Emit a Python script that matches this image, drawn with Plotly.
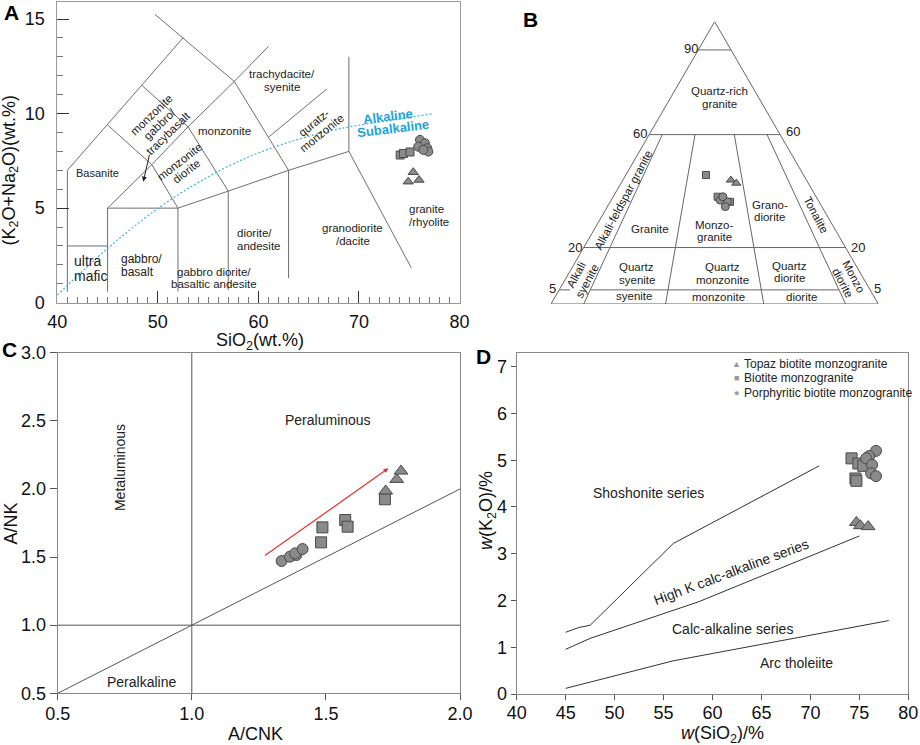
import math
import plotly.graph_objects as go

W, H = 920, 745
FONT = "Liberation Sans, Arial, sans-serif"

# ---------------- Panel A: TAS diagram ----------------
A_tri_sio2 = [75.4, 74.9, 75.97]
A_tri_alk = [6.9, 6.4, 6.49]
A_sq_sio2 = [74.1, 74.43, 75.08]
A_sq_alk = [7.81, 7.89, 7.97]
A_ci_sio2 = [76.07, 76.57, 76.8, 75.9, 76.9, 76.4]
A_ci_alk = [8.61, 8.43, 8.17, 8.25, 7.99, 8.08]

A_bounds = [
    [(41, 0.58), (41, 7)],
    [(41, 7), (45, 9.4), (48.4, 11.5), (52.5, 14)],
    [(49.7, 15.25), (52.5, 14), (57.6, 11.7), (63, 7)],
    [(41, 3), (45, 3)],
    [(45, 0.58), (45, 5), (52, 5)],
    [(45, 5), (49.4, 7.3), (53, 9.3), (57.6, 11.7), (61, 13.55)],
    [(45, 9.4), (49.4, 7.3), (52, 5)],
    [(48.4, 11.5), (53, 9.3)],
    [(53, 9.3), (57, 5.9)],
    [(52, 0.6), (52, 5), (57, 5.9), (63, 7), (69, 8)],
    [(57, 0.67), (57, 5.9)],
    [(63, 1.29), (63, 7)],
    [(69, 13.0), (69, 8), (75.2, 1.85)],
    [(61, 8.75), (66.8, 11.3)],
]
A_alk_sio2 = [40, 45, 50.5, 56.2, 60.8, 66.1, 69.1, 77.4]
A_alk_tot = [0.4, 2.87, 5.17, 7.0, 8.08, 8.96, 9.3, 10.0]

# ---------------- Panel B: QAP diagram (Q, A, P %) ----------------
B_tri_Q = [43.9, 42.8]
B_tri_A = [23.1, 22.0]
B_tri_P = [33.0, 35.2]
B_sq_Q = [45.7, 38.0, 36.2]
B_sq_A = [29.8, 30.1, 27.2]
B_sq_P = [24.5, 31.9, 36.6]
B_ci_Q = [36.8, 36.2, 34.5, 38.0]
B_ci_A = [29.9, 28.0, 29.5, 28.5]
B_ci_P = [33.3, 35.8, 36.0, 33.5]
B_q_full = [90, 60, 20]          # Q levels spanning edge to edge
B_ratios = [10, 35, 65, 90]      # P/(A+P) % lines from Q=60 to base
B_q5_from_to = (10, 90)          # Q=5 line between these ratio lines
B_bottom_labels = ["90", "65", "35", "10"]

# ---------------- Panel C: A/NK vs A/CNK ----------------
C_ci_x = [1.335, 1.366, 1.39, 1.385, 1.413]
C_ci_y = [1.471, 1.503, 1.515, 1.527, 1.559]
C_sq_x = [1.487, 1.482, 1.572, 1.581, 1.720]
C_sq_y = [1.718, 1.608, 1.772, 1.723, 1.924]
C_tri_x = [1.723, 1.764, 1.780]
C_tri_y = [1.985, 2.07, 2.131]
C_arrow = [(1.267, 1.503), (1.733, 2.151)]

# ---------------- Panel D: K2O vs SiO2 ----------------
D_sq_x = [74.2, 74.9, 75.4, 74.6, 74.7]
D_sq_y = [5.04, 4.93, 4.88, 4.61, 4.56]
D_ci_x = [76.7, 76.0, 75.7, 76.3, 76.2, 76.7]
D_ci_y = [5.2, 5.09, 5.04, 4.9, 4.72, 4.66]
D_tri_x = [74.7, 75.1, 75.9]
D_tri_y = [3.67, 3.6, 3.58]
D_shosh = [(45, 1.32), (46.3, 1.42), (47.5, 1.47), (56, 3.22), (70.9, 4.88)]
D_highk = [(45, 0.955), (47.5, 1.19), (58.55, 1.97), (75, 3.38)]
D_calc = [(45, 0.12), (56, 0.71), (60.1, 0.87), (78, 1.57)]

groups = ["Topaz biotite monzogranite", "Biotite monzogranite",
          "Porphyritic biotite monzogranite"]

MFILL = "#8a8a8a"
MLINE = "#4a4a4a"


def px2x(px):
    return px / W


def py2y(py):
    return 1 - py / H


def tern(q, a, p):
    s = q + a + p
    q, a, p = q / s, a / s, p / s
    return p + q / 2, q * math.sqrt(3) / 2


fig = go.Figure()


def polylines(segs, xa, ya, color, width=1, dash="solid"):
    xs, ys = [], []
    for seg in segs:
        for (x, y) in seg:
            xs.append(x)
            ys.append(y)
        xs.append(None)
        ys.append(None)
    fig.add_trace(go.Scatter(x=xs, y=ys, mode="lines", xaxis=xa, yaxis=ya,
                             line=dict(color=color, width=width, dash=dash),
                             hoverinfo="skip", showlegend=False))


def pts(x, y, xa, ya, symbol, size):
    fig.add_trace(go.Scatter(x=x, y=y, mode="markers", xaxis=xa, yaxis=ya,
                             marker=dict(symbol=symbol, size=size, color=MFILL,
                                         line=dict(color=MLINE, width=1)),
                             cliponaxis=False, showlegend=False))


def label(text, x, y, xref, yref, size, angle=0, color="#222", bold=False,
          xanchor="center", lh=None):
    lines = text.split("\n")
    n = len(lines)
    lh = lh or size * 1.08
    th = math.radians(angle)
    for i, ln in enumerate(lines):
        d = (i - (n - 1) / 2) * lh
        t = "<b>%s</b>" % ln if bold else ln
        fig.add_annotation(text=t, x=x, y=y, xref=xref, yref=yref,
                           showarrow=False, textangle=angle,
                           xshift=-d * math.sin(th), yshift=-d * math.cos(th),
                           font=dict(size=size, color=color, family=FONT),
                           xanchor=xanchor, yanchor="middle")


# ----- Panel A traces -----
polylines(A_bounds, "x", "y", "#6e6e6e", 1)
fig.add_trace(go.Scatter(x=A_alk_sio2, y=A_alk_tot, mode="lines", xaxis="x", yaxis="y",
                         line=dict(color="#3ab0e2", width=1.2, dash="2px,2px", shape="spline"),
                         showlegend=False))
pts(A_sq_sio2, A_sq_alk, "x", "y", "square", 8)
pts(A_ci_sio2, A_ci_alk, "x", "y", "circle", 9)
pts(A_tri_sio2, A_tri_alk, "x", "y", "triangle-up", 9)

A_labels = [
    ("Basanite", 44.0, 6.84, 11, 0, "center"),
    ("trachydacite/\nsyenite", 62.3, 11.75, 11.5, 0, "center"),
    ("monzonite", 56.67, 9.08, 11.5, 0, "center"),
    ("quratz-\nmonzonite", 65.9, 9.25, 11.5, -39, "center"),
    ("monzonite\ngabbro/\ntracybasalt", 50.2, 9.45, 11.5, -44, "center"),
    ("monzonite\ndiorite", 52.5, 7.2, 11.5, -38, "center"),
    ("gabbro diorite/\nbasaltic andesite", 55.6, 1.3, 11.5, 0, "center"),
    ("granodiorite\n/dacite", 69.4, 3.6, 11.5, 0, "center"),
]
for t, x, y, s, a, al in A_labels:
    label(t, x, y, "x", "y", s, a)
label("ultra\nmafic", 41.5, 1.8, "x", "y", 14, 0, xanchor="left", lh=14.5)
label("gabbro/\nbasalt", 46.17, 1.96, "x", "y", 12, 0, xanchor="left")
label("diorite/\nandesite", 57.7, 3.35, "x", "y", 11.5, 0, xanchor="left")
label("granite\n/rhyolite", 74.74, 4.6, "x", "y", 11.5, 0, xanchor="left")
label("Alkaline", 72.85, 9.84, "x", "y", 13, -7, color="#1ca3de", bold=True)
label("Subalkaline", 73.4, 9.22, "x", "y", 13, -7, color="#1ca3de", bold=True)
fig.add_annotation(x=48.55, y=6.4, ax=49.2, ay=7.9, xref="x", yref="y", axref="x", ayref="y",
                   showarrow=True, arrowhead=2, arrowsize=1, arrowwidth=1, arrowcolor="#222",
                   text="")

# ----- Panel B traces -----
s3 = math.sqrt(3) / 2
b_segs = [[tern(0, 100, 0), tern(0, 0, 100), tern(100, 0, 0), tern(0, 100, 0)]]
for q in B_q_full:
    b_segs.append([tern(q, 100 - q, 0), tern(q, 0, 100 - q)])
for r in B_ratios:
    b_segs.append([tern(60, 40 * (1 - r / 100), 40 * r / 100),
                   tern(0, 100 * (1 - r / 100), 100 * r / 100)])
r0, r1 = B_q5_from_to
b_segs.append([tern(5, 95 * (1 - r0 / 100), 95 * r0 / 100),
               tern(5, 95 * (1 - r1 / 100), 95 * r1 / 100)])
b_segs.append([tern(5, 95, 0), tern(5, 95 * 0.965, 95 * 0.035)])
polylines(b_segs, "x2", "y2", "#666666", 1)


def tern_list(Q, A, P):
    xy = [tern(q, a, p) for q, a, p in zip(Q, A, P)]
    return [v[0] for v in xy], [v[1] for v in xy]


bx, by = tern_list(B_sq_Q, B_sq_A, B_sq_P)
pts(bx, by, "x2", "y2", "square", 7)
bx, by = tern_list(B_ci_Q, B_ci_A, B_ci_P)
pts(bx, by, "x2", "y2", "circle", 8)
bx, by = tern_list(B_tri_Q, B_tri_A, B_tri_P)
pts(bx, by, "x2", "y2", "triangle-up", 8)

B_labels = [
    ("Quartz-rich\ngranite", 0.516, 0.633, 11.5, 0),
    ("Alkali-feldspar granite", 0.221, 0.319, 11.5, -62),
    ("Granite", 0.302, 0.229, 11.5, 0),
    ("Monzo-\ngranite", 0.499, 0.224, 11.5, 0),
    ("Grano-\ndiorite", 0.669, 0.285, 11.5, 0),
    ("Tonalite", 0.81, 0.273, 11.5, 62),
    ("Alkali\nsyenite", 0.094, 0.079, 11.5, -62),
    ("Quartz\nsyenite", 0.262, 0.094, 11.5, 0),
    ("Quartz\nmonzonite", 0.523, 0.094, 11.5, 0),
    ("Quartz\ndiorite", 0.730, 0.099, 11.5, 0),
    ("Monzo\ndiorite", 0.908, 0.0736, 11.5, 62),
    ("syenite", 0.255, 0.0245, 11.5, 0),
    ("monzonite", 0.513, 0.0225, 11.5, 0),
    ("diorite", 0.764, 0.0225, 11.5, 0),
]
for t, x, y, s, a in B_labels:
    label(t, x, y, "x2", "y2", s, a)
for t, x, y in [("90", 0.428, 0.784), ("60", 0.272, 0.5235), ("60", 0.738, 0.5286),
                ("20", 0.073, 0.174), ("20", 0.937, 0.174), ("5", 0.004, 0.048),
                ("5", 0.998, 0.048)]:
    label(t, x, y, "x2", "y2", 13)
for t, r in zip(B_bottom_labels, B_ratios):
    label(t, r / 100, -0.0286, "x2", "y2", 13)
label("Q", 0.504, 0.904, "x2", "y2", 19)
label("A", -0.0285, -0.0286, "x2", "y2", 19)
label("P", 1.0275, -0.0235, "x2", "y2", 19)

# ----- Panel C traces -----
polylines([[(1, 0.5), (1, 3.0)], [(0.5, 1), (2.0, 1)], [(0.5, 0.5), (2.0, 2.0)]],
          "x3", "y3", "#555555", 1)
pts(C_ci_x, C_ci_y, "x3", "y3", "circle", 11)
pts(C_sq_x, C_sq_y, "x3", "y3", "square", 11)
pts(C_tri_x, C_tri_y, "x3", "y3", "triangle-up", 12)
fig.add_annotation(x=C_arrow[1][0], y=C_arrow[1][1], ax=C_arrow[0][0], ay=C_arrow[0][1],
                   xref="x3", yref="y3", axref="x3", ayref="y3", showarrow=True,
                   arrowhead=2, arrowsize=0.8, arrowwidth=1.2, arrowcolor="#e8302a", text="")
label("Metaluminous", 0.732, 2.16, "x3", "y3", 14, -90)
label("Peraluminous", 1.507, 2.506, "x3", "y3", 14)
label("Peralkaline", 0.813, 0.581, "x3", "y3", 14)

# ----- Panel D traces -----
polylines([D_shosh, D_highk, D_calc], "x4", "y4", "#333333", 1)
pts(D_sq_x, D_sq_y, "x4", "y4", "square", 11)
pts(D_ci_x, D_ci_y, "x4", "y4", "circle", 11)
pts(D_tri_x, D_tri_y, "x4", "y4", "triangle-up", 12)
label("Shoshonite series", 53.5, 4.29, "x4", "y4", 14)
label("High K calc-alkaline series", 61.86, 2.62, "x4", "y4", 14, -20.5)
label("Calc-alkaline series", 62.06, 1.38, "x4", "y4", 14)
label("Arc tholeiite", 68.53, 0.66, "x4", "y4", 14)

# legend (panel D)
for (sym, py), g in zip([("\u25b2", 364.0), ("\u25a0", 378.3), ("\u25cf", 392.7)], groups):
    fig.add_annotation(text=sym, x=px2x(736), y=py2y(py), xref="paper", yref="paper",
                       showarrow=False, font=dict(size=9, color="#999999", family=FONT),
                       xanchor="center", yanchor="middle")
    fig.add_annotation(text=g, x=px2x(742), y=py2y(py), xref="paper", yref="paper",
                       showarrow=False, font=dict(size=12, color="#222", family=FONT),
                       xanchor="left", yanchor="middle")

# ----- panel letters and axis titles -----
for t, px, py in [("A", 11.5, 12.5), ("B", 530, 20), ("C", 9.5, 349), ("D", 483, 356.5)]:
    fig.add_annotation(text="<b>%s</b>" % t, x=px2x(px), y=py2y(py), xref="paper", yref="paper",
                       showarrow=False, font=dict(size=21, color="#000", family=FONT),
                       xanchor="center", yanchor="middle")

titles = [
    ("SiO<sub>2</sub>(wt.%)", 260, 341.5, 0),
    ("(K<sub>2</sub>O+Na<sub>2</sub>O)(wt.%)", 9.5, 170, -90),
    ("A/CNK", 255, 734, 0),
    ("A/NK", 10.5, 524, -90),
    ("<i>w</i>(K<sub>2</sub>O)/%", 487, 511, -90),
    ("<i>w</i>(SiO<sub>2</sub>)/%", 722, 734, 0),
]
for t, px, py, a in titles:
    fig.add_annotation(text=t, x=px2x(px), y=py2y(py), xref="paper", yref="paper",
                       showarrow=False, textangle=a,
                       font=dict(size=18, color="#111", family=FONT),
                       xanchor="center", yanchor="middle")

# ----- axes -----
common = dict(showgrid=False, zeroline=False, showline=True, mirror=True, automargin=False,
              tickfont=dict(size=18, color="#111", family=FONT))

fig.update_layout(
    template="none",
    width=W, height=H, margin=dict(l=0, r=0, t=0, b=0, pad=0, autoexpand=False),
    plot_bgcolor="white", paper_bgcolor="white", showlegend=False,
    font=dict(family=FONT),
    xaxis=dict(domain=[px2x(57.3), px2x(459.5)], range=[40, 80], anchor="y",
               tickvals=[40, 50, 60, 70, 80], ticks="inside", ticklen=12, tickcolor="#333",
               linecolor="#999", ticklabelstandoff=3,
               minor=dict(dtick=1, ticks="inside", ticklen=6, tickcolor="#777"), **common),
    yaxis=dict(domain=[py2y(302.7), py2y(2)], range=[0, 15.9], anchor="x",
               tickvals=[0, 5, 10, 15], ticks="inside", ticklen=12, tickcolor="#333",
               linecolor="#999", ticklabelstandoff=8,
               minor=dict(dtick=1, ticks="inside", ticklen=6, tickcolor="#777"), **common),
    xaxis2=dict(domain=[px2x(551), px2x(878.3)], range=[0, 1], anchor="y2", visible=False,
                automargin=False),
    yaxis2=dict(domain=[py2y(304), py2y(21.7)], range=[0, s3], anchor="x2", visible=False,
                automargin=False),
    xaxis3=dict(domain=[px2x(57.7), px2x(460)], range=[0.5, 2.0], anchor="y3",
                dtick=0.5, tick0=0.5, tickformat=".1f", ticks="outside", ticklen=6,
                tickcolor="#555", linecolor="#888", ticklabelstandoff=-2, **common),
    yaxis3=dict(domain=[py2y(693.3), py2y(352.7)], range=[0.5, 3.0], anchor="x3",
                dtick=0.5, tick0=0.5, tickformat=".1f", ticks="outside", ticklen=7,
                tickcolor="#555", linecolor="#888", **common),
    xaxis4=dict(domain=[px2x(516.7), px2x(908.3)], range=[40, 80], anchor="y4",
                dtick=5, ticks="outside", ticklen=5, tickcolor="#555", linecolor="#888",
                ticklabelstandoff=-3, **common),
    yaxis4=dict(domain=[py2y(694), py2y(352.7)], range=[0, 7.3], anchor="x4",
                tickvals=[0, 1, 2, 3, 4, 5, 6, 7], ticks="outside", ticklen=5,
                tickcolor="#555", linecolor="#888", **common),
)

fig.write_html("out.html", config={"displayModeBar": False},
               post_script="document.body.style.margin='0px';")
